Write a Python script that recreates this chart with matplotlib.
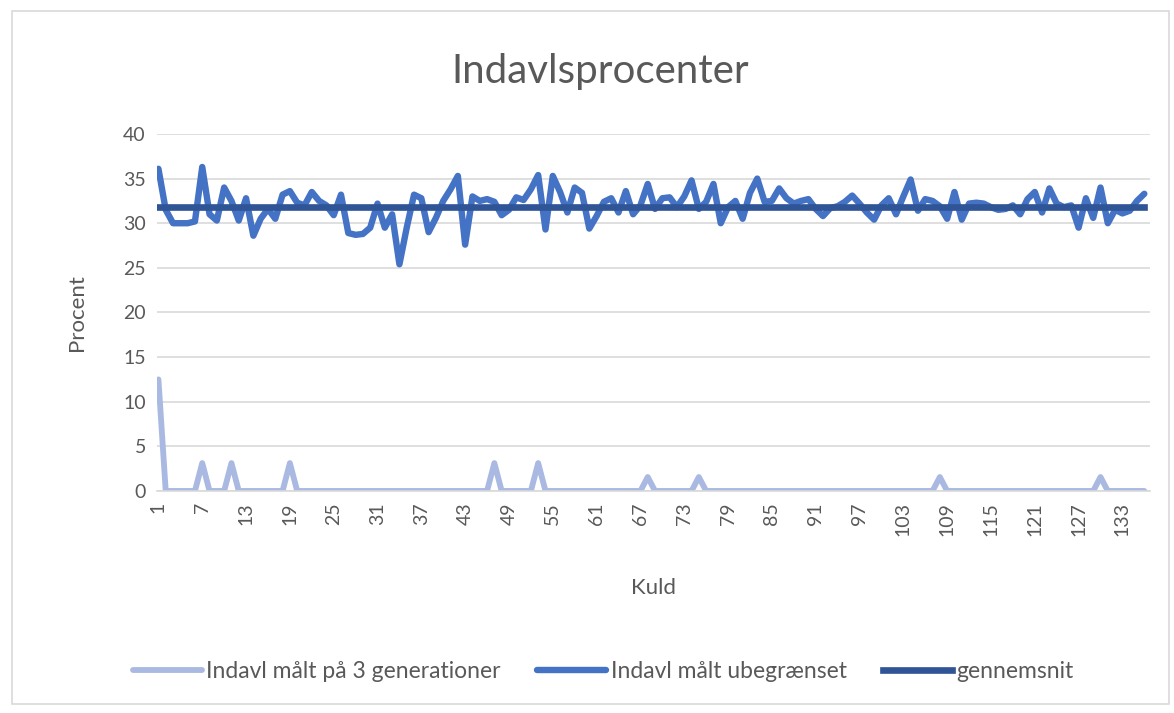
import matplotlib
matplotlib.use('Agg')
import matplotlib.pyplot as plt
from matplotlib.patches import Rectangle

plt.rcParams['font.family'] = ['Lato', 'DejaVu Sans']

# Indavl maalt paa 3 generationer (kuld 1..136)
indavl_3gen = [
    12.5, 0, 0, 0, 0, 0, 3.125, 0, 0, 0, 3.125, 0, 0, 0, 0, 0, 0, 0, 3.125, 0,
    0, 0, 0, 0, 0, 0, 0, 0, 0, 0, 0, 0, 0, 0, 0, 0, 0, 0, 0, 0,
    0, 0, 0, 0, 0, 0, 3.125, 0, 0, 0, 0, 0, 3.125, 0, 0, 0, 0, 0, 0, 0,
    0, 0, 0, 0, 0, 0, 0, 1.5625, 0, 0, 0, 0, 0, 0, 1.5625, 0, 0, 0, 0, 0,
    0, 0, 0, 0, 0, 0, 0, 0, 0, 0, 0, 0, 0, 0, 0, 0, 0, 0, 0, 0,
    0, 0, 0, 0, 0, 0, 0, 1.5625, 0, 0, 0, 0, 0, 0, 0, 0, 0, 0, 0, 0,
    0, 0, 0, 0, 0, 0, 0, 0, 0, 1.5625, 0, 0, 0, 0, 0, 0,
]

# Indavl maalt ubegraenset
indavl_ubegr = [
    36.1, 31.5, 30.0, 30.0, 30.0, 30.2, 36.3, 31.0, 30.3, 34.0,
    32.5, 30.3, 32.8, 28.6, 30.5, 31.6, 30.5, 33.2, 33.6, 32.3,
    32.0, 33.5, 32.5, 32.0, 30.9, 33.2, 28.9, 28.7, 28.8, 29.5,
    32.2, 29.5, 31.0, 25.4, 29.5, 33.2, 32.8, 29.0, 30.6, 32.5,
    33.8, 35.3, 27.6, 33.0, 32.5, 32.7, 32.4, 30.9, 31.5, 32.9,
    32.6, 33.8, 35.4, 29.3, 35.3, 33.5, 31.2, 34.0, 33.4, 29.4,
    30.8, 32.4, 32.8, 31.2, 33.6, 31.0, 32.0, 34.4, 31.6, 32.8,
    32.9, 31.8, 33.0, 34.8, 31.6, 32.4, 34.4, 30.0, 31.8, 32.5,
    30.5, 33.4, 35.0, 32.4, 32.5, 33.9, 32.8, 32.2, 32.5, 32.7,
    31.6, 30.8, 31.7, 31.9, 32.4, 33.1, 32.2, 31.2, 30.4, 32.0,
    32.8, 31.0, 33.0, 34.9, 31.4, 32.7, 32.5, 31.9, 30.5, 33.5,
    30.4, 32.2, 32.3, 32.2, 31.8, 31.5, 31.6, 32.0, 31.0, 32.7,
    33.5, 31.2, 33.9, 32.2, 31.8, 32.0, 29.5, 32.8, 30.6, 34.0,
    30.0, 31.5, 31.1, 31.4, 32.5, 33.3,
]

gennemsnit = 31.8

kuld = list(range(1, len(indavl_ubegr) + 1))
xticks = list(range(1, 136, 6))
yticks = list(range(0, 41, 5))

grey = '#595959'

fig = plt.figure(figsize=(11.74, 7.13), dpi=100)
fig.patches.append(Rectangle((0.010, 0.012), 0.986, 0.972, transform=fig.transFigure,
                             fill=False, edgecolor='#d9d9d9', linewidth=1.2))

ax = fig.add_axes([0.1337, 0.3114, 0.846, 0.5007])

ax.plot(kuld, indavl_3gen, color='#a9b9e1', linewidth=4.2, solid_joinstyle='round',
        solid_capstyle='round', label='Indavl målt på 3 generationer')
ax.plot(kuld, indavl_ubegr, color='#4472c4', linewidth=4.6, solid_joinstyle='round',
        solid_capstyle='round', label='Indavl målt ubegrænset')
ax.plot(kuld, [gennemsnit] * len(kuld), color='#2f5597', linewidth=4.8,
        label='gennemsnit')

ax.set_xlim(0.8, 136.8)
ax.set_ylim(0, 40)
ax.set_yticks(yticks)
ax.set_xticks(xticks)
ax.set_xticklabels([str(t) for t in xticks], rotation=90)
ax.grid(axis='y', color='#d9d9d9', linewidth=1.2)
ax.set_axisbelow(True)
for s in ['top', 'right', 'left']:
    ax.spines[s].set_visible(False)
ax.spines['bottom'].set_color('#d9d9d9')
ax.spines['bottom'].set_linewidth(1.2)
ax.tick_params(axis='both', length=0, labelsize=14, labelcolor=grey, pad=8)

ax.set_xlabel('Kuld', fontsize=16, color=grey, labelpad=30)
ax.set_ylabel('Procent', fontsize=16, color=grey, labelpad=26)
fig.text(0.511, 0.900, 'Indavlsprocenter', ha='center', va='center',
         fontsize=29, color=grey)

fig.legend(loc='center', bbox_to_anchor=(0.514, 0.058), ncol=3, frameon=False,
           fontsize=16.5, labelcolor=grey, handlelength=3.0, handletextpad=0.2,
           columnspacing=1.6)

fig.savefig('out.png', dpi=100)
